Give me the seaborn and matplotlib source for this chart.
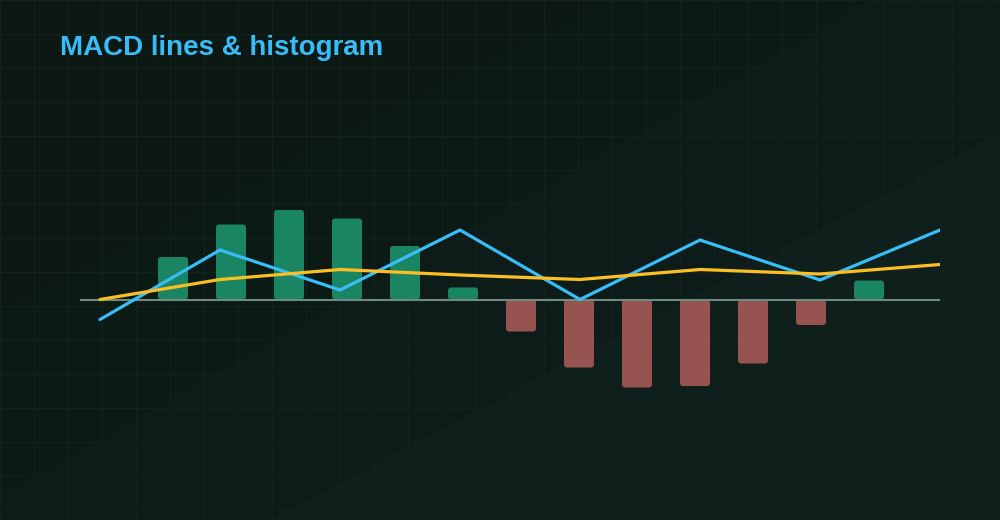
import numpy as np
import pandas as pd
import seaborn as sns
import matplotlib
matplotlib.use("Agg")
import matplotlib.pyplot as plt
from matplotlib.patches import FancyBboxPatch, Polygon

# ---- data ----
hist_values = [4.25, 7.5, 8.95, 8.1, 5.35, 1.2, -3.2, -6.8, -8.8, -8.65, -6.4, -2.55, 1.9]
macd_values = [-2.0, 4.95, 0.95, 6.95, 0.0, 5.95, 1.95, 6.95]
signal_values = [0.0, 2.0, 3.0, 2.45, 2.0, 3.0, 2.55, 3.5]
title_text = "MACD lines & histogram"

BG = "#0c1a16"
GREEN = "#1a8562"
RED = "#965350"
BLUE = "#38bdf8"
YELLOW = "#fbbf24"
ZERO = "#6e8b82"
GRID = "#12231d"

sns.set_theme(style="dark")
plt.rcParams["font.family"] = ["Liberation Sans", "DejaVu Sans"]

W, H = 1000, 520
fig = plt.figure(figsize=(W / 100, H / 100), dpi=100, facecolor=BG)

# ---- background decoration (pixel coordinates) ----
bg = fig.add_axes([0, 0, 1, 1], zorder=0)
bg.set_xlim(0, W)
bg.set_ylim(H, 0)
bg.axis("off")
bg.set_facecolor(BG)
bg.add_patch(Polygon([(0, 0), (0, H), (W, H), (W, 0)], closed=True, fc=BG, ec="none"))
bg.add_patch(Polygon([(0, 0), (605, 0), (0, 311)], closed=True, fc="#0b1814", ec="none"))
bg.add_patch(Polygon([(870, 0), (W, 0), (W, 133), (270, H), (0, H), (0, 495)],
                     closed=True, fc="#0d1c18", ec="none"))
bg.add_patch(Polygon([(W, 133), (W, H), (270, H)], closed=True, fc="#0f1f1b", ec="none"))
for gx in range(0, W + 1, 34):
    bg.axvline(gx, color=GRID, lw=0.75, zorder=1)
for gy in range(0, H + 1, 34):
    bg.axhline(gy, color=GRID, lw=0.75, zorder=1)

# ---- main axes ----
x0, x1 = 80, 940
ytop, ybot = 100, 500
zero_px = 299.5
ax = fig.add_axes([x0 / W, (H - ybot) / H, (x1 - x0) / W, (ybot - ytop) / H], zorder=2)
ax.set_facecolor("none")
px_per_unit = 10.0
ax.set_ylim(-(ybot - zero_px) / px_per_unit, (zero_px - ytop) / px_per_unit)

hist_df = pd.DataFrame({
    "i": list(range(len(hist_values))),
    "v": hist_values,
    "sign": ["pos" if v >= 0 else "neg" for v in hist_values],
})
bar_step = 58.0
bar_w_px = 30.0
sns.barplot(data=hist_df, x="i", y="v", hue="sign", palette={"pos": GREEN, "neg": RED},
            width=bar_w_px / bar_step, dodge=False, legend=False, ax=ax, saturation=1,
            order=list(range(len(hist_values))))
ax.set_xlim(-(173 - x0) / bar_step, (x1 - 173) / bar_step)

# rounded bar corners
rx = 3.0 / bar_step
ry = 3.0 / px_per_unit
for p in list(ax.patches):
    bx, by, bw, bh = p.get_x(), p.get_y(), p.get_width(), p.get_height()
    if bh == 0 or np.isnan(bh):
        p.remove()
        continue
    if bh < 0:
        by, bh = by + bh, -bh
    fc = p.get_facecolor()
    p.remove()
    ax.add_patch(FancyBboxPatch((bx, by), bw, bh,
                                boxstyle=f"round,pad=0,rounding_size={rx}",
                                mutation_aspect=ry / rx, fc=fc, ec="none", zorder=2))

ax.axhline(0, color=ZERO, lw=1.5, zorder=3)

ax2 = ax.twiny()
ax2.set_facecolor("none")
line_df = pd.DataFrame({
    "i": list(range(len(macd_values))),
    "macd": macd_values,
    "signal": signal_values,
})
sns.lineplot(data=line_df, x="i", y="macd", color=BLUE, lw=2.3, ax=ax2, zorder=4)
sns.lineplot(data=line_df, x="i", y="signal", color=YELLOW, lw=2.3, ax=ax2, zorder=5)
n = len(macd_values) - 1
step_px = (x1 - 100) / n
ax2.set_xlim(-(100 - x0) / step_px, n)
ax2.set_ylim(ax.get_ylim())

for a in (ax, ax2):
    a.set_xticks([])
    a.set_yticks([])
    a.set_xlabel("")
    a.set_ylabel("")
    a.grid(False)
    for s in a.spines.values():
        s.set_visible(False)

fig.text(60 / W, 1 - 55 / H, title_text, color=BLUE, fontsize=20, fontweight="bold",
         ha="left", va="baseline", family=["Liberation Sans", "DejaVu Sans"])

fig.savefig("out.png", dpi=100, facecolor=BG)
